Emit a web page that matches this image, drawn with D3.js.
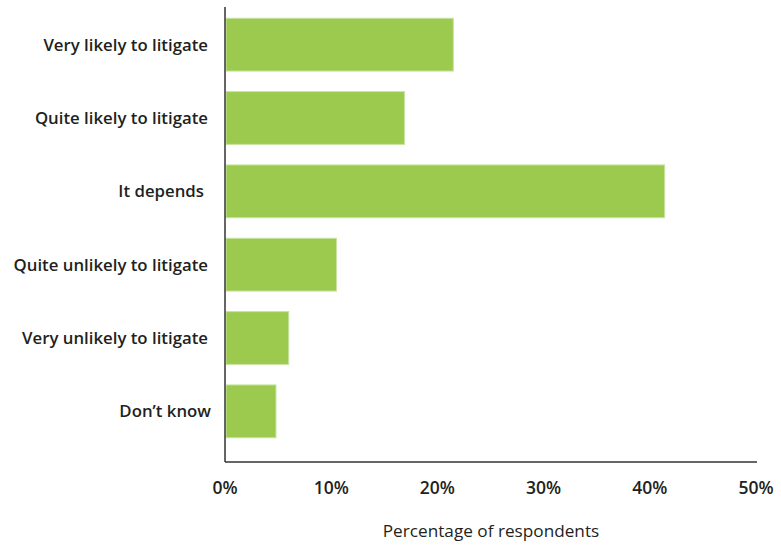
<!DOCTYPE html>
<html><head><meta charset="utf-8">
<script src="https://cdn.jsdelivr.net/npm/d3@7"></script>
<style>body{margin:0;background:#fff}</style>
</head><body>
<svg id="c" width="781" height="546"></svg>
<script>
const categories = ["Very likely to litigate","Quite likely to litigate","It depends","Quite unlikely to litigate","Very unlikely to litigate","Don\u2019t know"];
const values = [21.5, 16.9, 41.4, 10.5, 6.0, 4.8];
const tickValues = [0,10,20,30,40,50];
const tickLabels = ["0%","10%","20%","30%","40%","50%"];

const svg = d3.select("#c");
const x = d3.scaleLinear().domain([0,50]).range([225,756]);
const y = d3.scaleBand().domain(categories).range([8,448]).paddingInner(0.28).paddingOuter(0.14);
const font = "'Open Sans', sans-serif";

svg.selectAll("rect.bar").data(values).join("rect")
  .attr("class","bar")
  .attr("x", x(0)+1)
  .attr("y",(d,i)=>y(categories[i]))
  .attr("width",d=>x(d)-x(0)-1)
  .attr("height",y.bandwidth())
  .attr("fill","#9cca4e")
  .attr("stroke","#c8e3a0").attr("stroke-width",1);

svg.append("line").attr("x1",x(0)).attr("x2",x(0)).attr("y1",7).attr("y2",462)
  .attr("stroke","#333").attr("stroke-width",1.5);
svg.append("line").attr("x1",x(0)).attr("x2",757).attr("y1",462).attr("y2",462)
  .attr("stroke","#333").attr("stroke-width",1.5);

const labelX = [208, 208, 204, 208, 208, 211];
svg.selectAll("text.cat").data(categories).join("text")
  .attr("class","cat")
  .attr("x",(d,i)=>labelX[i]).attr("y",d=>y(d)+y.bandwidth()/2+6)
  .attr("text-anchor","end")
  .attr("font-family",font).attr("font-weight",600).attr("font-size",16.8)
  .attr("fill","#231f20").text(d=>d);

svg.selectAll("text.tick").data(tickValues).join("text")
  .attr("class","tick")
  .attr("x",d=>x(d)).attr("y",494)
  .attr("text-anchor","middle")
  .attr("font-family",font).attr("font-weight",600).attr("font-size",17.5)
  .attr("fill","#231f20").text((d,i)=>tickLabels[i]);

svg.append("text").attr("x",491).attr("y",537).attr("text-anchor","middle")
  .attr("font-family",font).attr("font-size",17.2).attr("fill","#231f20")
  .text("Percentage of respondents");
</script>
</body></html>
